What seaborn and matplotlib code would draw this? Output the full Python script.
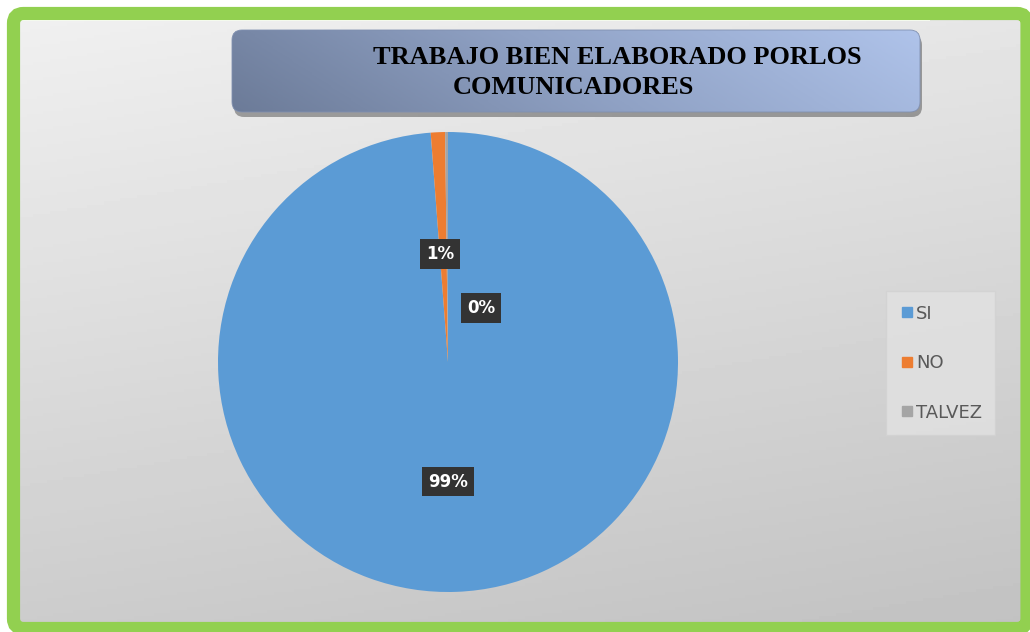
import numpy as np
import matplotlib
matplotlib.use("Agg")
import matplotlib.pyplot as plt
import seaborn as sns
from matplotlib.patches import FancyBboxPatch, Rectangle
from matplotlib.lines import Line2D
from matplotlib.colors import LinearSegmentedColormap

categories = ["SI", "NO", "TALVEZ"]
values = [98.8, 1.0, 0.2]
labels = ["99%", "1%", "0%"]
title_line1 = "TRABAJO BIEN ELABORADO PORLOS"
title_line2 = "COMUNICADORES"
colors = ["#5b9bd5", "#ed7d31", "#a5a5a5"]

sns.set_theme(style="white")
plt.rcParams['font.family'] = ['DejaVu Sans']

W, H = 1030, 632
fig = plt.figure(figsize=(W / 100, H / 100), dpi=100)
fig.patch.set_facecolor("white")

def fx(px):
    return px / W

def fy(py):
    return 1 - py / H

# background gradient (pixel-coordinate axes)
bg = fig.add_axes([0, 0, 1, 1])
bg.set_xlim(0, W)
bg.set_ylim(H, 0)
bg.set_axis_off()
yy, xx = np.mgrid[0:1:200j, 0:1:300j]
grad = 0.94 - 0.14 * yy - 0.04 * xx
bg.imshow(grad, cmap="gray", vmin=0, vmax=1, aspect="auto",
          extent=[20, 1023, 625, 20], origin="upper", zorder=0)
bg.add_patch(Rectangle((20, 18), 910, 3, facecolor="white", edgecolor="none", zorder=1))

# green border
bg.add_patch(FancyBboxPatch((13.5, 13.5), 1027 - 13.5, 628.5 - 13.5,
                            boxstyle="round,pad=0,rounding_size=10",
                            fill=False, edgecolor="#92d050", linewidth=9.5, zorder=5))

# title box with shadow
bg.add_patch(FancyBboxPatch((234, 35), 688, 82, boxstyle="round,pad=0,rounding_size=10",
                            facecolor="#3c3c3c", edgecolor="none", alpha=0.45, zorder=2))
tb = FancyBboxPatch((232, 30), 688, 82, boxstyle="round,pad=0,rounding_size=10",
                    facecolor="none", edgecolor="#8090b0", linewidth=0.6, zorder=4)
bg.add_patch(tb)
cm = LinearSegmentedColormap.from_list("tb", ["#6c7b98", "#90a2c5", "#afc3ea"])
gx = np.linspace(0, 1, 300)[None, :]
gy = np.linspace(0, 1, 60)[:, None]
img = gx * 0.85 + (1 - gy) * 0.15
im = bg.imshow(img, cmap=cm, vmin=0, vmax=1, aspect="auto",
               extent=[232, 920, 112, 30], origin="upper", zorder=3)
im.set_clip_path(tb)
bg.text(373, 58, title_line1, ha="left", va="center", family="Liberation Serif",
        fontweight="bold", fontsize=19, color="black", zorder=6)
bg.text(453, 88, title_line2, ha="left", va="center", family="Liberation Serif",
        fontweight="bold", fontsize=19, color="black", zorder=6)

# pie
ax = fig.add_axes([fx(218), fy(592), fx(460), 460 / H])
wedges, _ = ax.pie(values, colors=colors, startangle=90, counterclock=False,
                   wedgeprops=dict(linewidth=0))
ax.set_xlim(-1, 1)
ax.set_ylim(-1, 1)
ax.set_aspect("equal")
ax.set_axis_off()

box = dict(boxstyle="square,pad=0.35", facecolor="#333333", edgecolor="none")
label_pos = [(0.0, -0.52), (-0.035, 0.47), (0.145, 0.235)]
for (lx, ly), t in zip(label_pos, labels):
    ax.text(lx, ly, t, ha="center", va="center", color="white",
            fontsize=12, fontweight="bold", bbox=box)

# legend
handles = [Line2D([], [], marker="s", linestyle="none", markersize=7,
                  markerfacecolor=c, markeredgecolor=c) for c in colors]
leg = fig.legend(handles, categories, loc="upper left",
                 bbox_to_anchor=(fx(886), fy(291)), frameon=True,
                 fontsize=13, labelspacing=1.75, handletextpad=0.1,
                 handlelength=0.8, borderpad=0.75, borderaxespad=0)
leg.get_frame().set_facecolor("#e2e2e2")
leg.get_frame().set_edgecolor("#d2d2d2")
leg.get_frame().set_boxstyle("square", pad=0)
for t in leg.get_texts():
    t.set_color("#595959")

fig.savefig("out.png", dpi=100, facecolor=fig.get_facecolor())
